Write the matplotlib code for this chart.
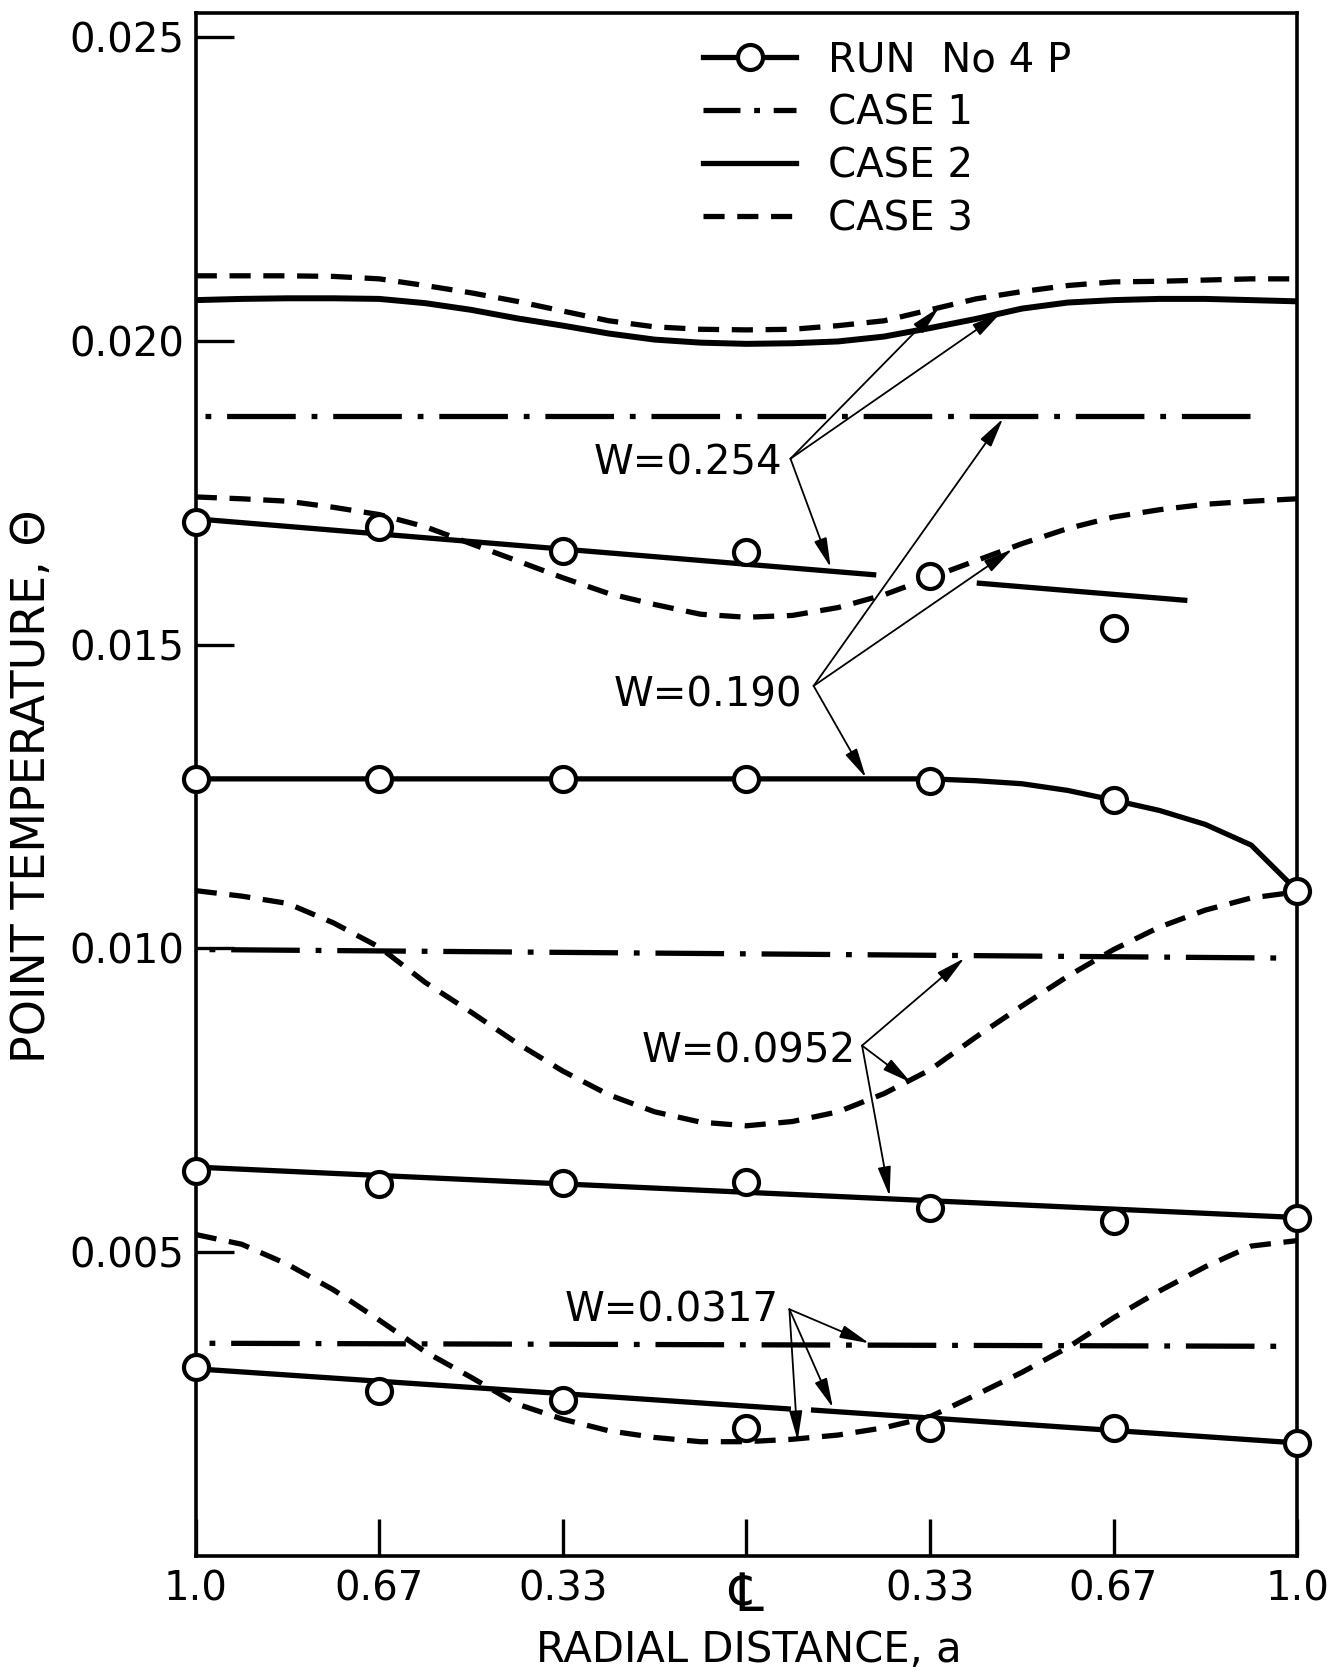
import numpy as np
import matplotlib.pyplot as plt
from matplotlib.lines import Line2D

# radial stations: wall -> centerline -> wall
x_pts = [-1.0, -2/3, -1/3, 0.0, 1/3, 2/3, 1.0]
x_tick_labels = ['1.0', '0.67', '0.33', '\u2104', '0.33', '0.67', '1.0']
y_ticks = [0.005, 0.010, 0.015, 0.020, 0.025]
y_tick_labels = ['0.005', '0.010', '0.015', '0.020', '0.025']

# stations (every 1/12 of the radius) where the calculated curves were read
x_fine = np.linspace(-1, 1, 25)

# ---- measured points, RUN No 4P ----
run_254 = [0.01701, 0.01694, 0.01654, 0.01652, 0.01613, 0.01527]
run_190 = [0.01279, 0.01279, 0.01279, 0.01279, 0.01276, 0.01244, 0.01095]
run_0952 = [0.00633, 0.00612, 0.00613, 0.00615, 0.00573, 0.00552, 0.00557]
run_0317 = [0.00311, 0.00271, 0.00257, 0.00211, 0.00211, 0.00211, 0.00186]

# faired lines through the runs (gaps where the drawing breaks them)
fit_254_x = [-1.0, 0.231, np.nan, 0.423, 0.796]
fit_254_y = [0.01707, 0.01615, np.nan, 0.01601, 0.01573]
fit_190 = [0.01279, 0.01279, 0.01279, 0.01279, 0.01279, 0.01279, 0.01279,
           0.01279, 0.01279, 0.01279, 0.01279, 0.01279, 0.01279, 0.01279,
           0.01279, 0.01279, 0.01279, 0.01276, 0.01271, 0.01260, 0.01244,
           0.01227, 0.01204, 0.01170, 0.01095]
fit_0952_x = [-1.0, 1.0]
fit_0952_y = [0.00640, 0.00557]
fit_0317_x = [-1.0, 0.076, np.nan, 0.122, 1.0]
fit_0317_y = [0.00308, 0.00242, np.nan, 0.00240, 0.00186]

# ---- calculated cases ----
case2_254 = [0.02067, 0.02069, 0.02070, 0.02070, 0.02069, 0.02062, 0.02051,
             0.02037, 0.02025, 0.02012, 0.02002, 0.01997, 0.01995, 0.01996,
             0.01999, 0.02007, 0.02021, 0.02036, 0.02053, 0.02063, 0.02067,
             0.02069, 0.02069, 0.02067, 0.02065]
case3_254 = [0.02107, 0.02107, 0.02107, 0.02106, 0.02102, 0.02091, 0.02079,
             0.02065, 0.02049, 0.02033, 0.02023, 0.02019, 0.02018, 0.02019,
             0.02025, 0.02033, 0.02051, 0.02069, 0.02081, 0.02091, 0.02097,
             0.02098, 0.02100, 0.02102, 0.02102]
case3_190 = [0.01743, 0.01740, 0.01736, 0.01726, 0.01714, 0.01694, 0.01666,
             0.01638, 0.01610, 0.01584, 0.01566, 0.01550, 0.01545, 0.01548,
             0.01561, 0.01582, 0.01610, 0.01638, 0.01666, 0.01691, 0.01710,
             0.01722, 0.01731, 0.01736, 0.01740]
case3_0952 = [0.01095, 0.01086, 0.01074, 0.01042, 0.01002, 0.00944, 0.00895,
              0.00844, 0.00798, 0.00759, 0.00731, 0.00714, 0.00708, 0.00715,
              0.00731, 0.00761, 0.00800, 0.00854, 0.00905, 0.00954, 0.00998,
              0.01035, 0.01063, 0.01083, 0.01093]
case3_0317 = [0.00529, 0.00513, 0.00480, 0.00438, 0.00388, 0.00336, 0.00294,
              0.00250, 0.00225, 0.00206, 0.00195, 0.00188, 0.00188, 0.00192,
              0.00199, 0.00211, 0.00229, 0.00265, 0.00302, 0.00343, 0.00392,
              0.00436, 0.00476, 0.00510, 0.00519]
# case 1 is flat
case1_x = {'190': [-0.984, 0.940], '0952': [-0.975, 0.979], '0317': [-0.975, 0.979]}
case1_y = {'190': [0.01877, 0.01877], '0952': [0.00998, 0.00984], '0317': [0.00350, 0.00345]}

# labels: text position, arrow origin, arrow tips
labels = {
    'W=0.254': ((0.066, 0.01798), (0.080, 0.01806),
                [(0.350, 0.02055), (0.462, 0.02046), (0.153, 0.01627)]),
    'W=0.190': ((0.101, 0.01417), (0.122, 0.01432),
                [(0.466, 0.01872), (0.483, 0.01657), (0.217, 0.01281)]),
    'W=0.0952': ((0.198, 0.00831), (0.210, 0.00840),
                 [(0.396, 0.00984), (0.299, 0.00779), (0.260, 0.00592)]),
    'W=0.0317': ((0.058, 0.00404), (0.078, 0.00406),
                 [(0.223, 0.00350), (0.157, 0.00244), (0.093, 0.00190)]),
}

LW = 3.8
DASH = (0, (4.0, 2.4))
DASHDOT = (0, (1.1, 3.0, 13, 3.0))
FS = 29

fig = plt.figure(figsize=(13.39, 16.77), dpi=100)
ax = fig.add_axes([0.1462, 0.0722, 0.8225, 0.9202])

# calculated curves
ax.plot(x_fine, case2_254, color='k', lw=LW + 0.5)
ax.plot(x_fine, case3_254, color='k', lw=LW, ls=DASH)
ax.plot(x_fine, case3_190, color='k', lw=LW, ls=DASH)
ax.plot(x_fine, case3_0952, color='k', lw=LW, ls=DASH)
ax.plot(x_fine, case3_0317, color='k', lw=LW, ls=DASH)
for k in case1_x:
    ax.plot(case1_x[k], case1_y[k], color='k', lw=LW, ls=DASHDOT, dash_capstyle='butt')

# runs
ax.plot(fit_254_x, fit_254_y, color='k', lw=LW)
ax.plot(x_fine, fit_190, color='k', lw=LW)
ax.plot(fit_0952_x, fit_0952_y, color='k', lw=LW)
ax.plot(fit_0317_x, fit_0317_y, color='k', lw=LW)
mk = dict(ls='none', marker='o', ms=18, mfc='white', mec='k', mew=3, clip_on=False, zorder=5)
ax.plot(x_pts[:6], run_254, **mk)
ax.plot(x_pts, run_190, **mk)
ax.plot(x_pts, run_0952, **mk)
ax.plot(x_pts, run_0317, **mk)

for txt, (tpos, origin, tips) in labels.items():
    ax.text(tpos[0], tpos[1], txt, ha='right', va='center', fontsize=FS)
    for tip in tips:
        ax.annotate('', xy=tip, xytext=origin,
                    arrowprops=dict(arrowstyle='-|>,head_length=0.9,head_width=0.2',
                                    color='k', lw=1.3, mutation_scale=20,
                                    shrinkA=0, shrinkB=0))

ax.set_xlim(-1, 1)
ax.set_ylim(0, 0.0254)
ax.set_xticks(x_pts)
ax.set_xticklabels(x_tick_labels)
ax.set_yticks(y_ticks)
ax.set_yticklabels(y_tick_labels)
ax.tick_params(axis='both', direction='in', length=27, width=2.4, labelsize=FS)
ax.tick_params(axis='y', pad=8)
ax.tick_params(axis='x', pad=10)
ax.get_xticklabels()[3].set_fontsize(38)
for s in ax.spines.values():
    s.set_linewidth(2.6)

fig.text(0.024, 0.531, 'POINT TEMPERATURE, \u0398', rotation=90,
         ha='center', va='center', fontsize=33)
fig.text(0.559, 0.016, 'RADIAL DISTANCE, a', ha='center', va='center', fontsize=30)

handles = [
    Line2D([], [], color='k', lw=LW, marker='o', ms=18, mfc='white', mew=3),
    Line2D([], [], color='k', lw=LW, ls=(0, (7, 2.6, 1.1, 2.6)), dash_capstyle='butt'),
    Line2D([], [], color='k', lw=LW),
    Line2D([], [], color='k', lw=LW, ls=DASH),
]
ax.legend(handles, ['RUN  No 4 P', 'CASE 1', 'CASE 2', 'CASE 3'],
          loc='upper left', bbox_to_anchor=(0.461, 0.982), frameon=False,
          fontsize=FS, handlelength=2.3, handletextpad=0.8, labelspacing=0.32,
          borderpad=0, borderaxespad=0)

fig.savefig('out.png', dpi=100)
